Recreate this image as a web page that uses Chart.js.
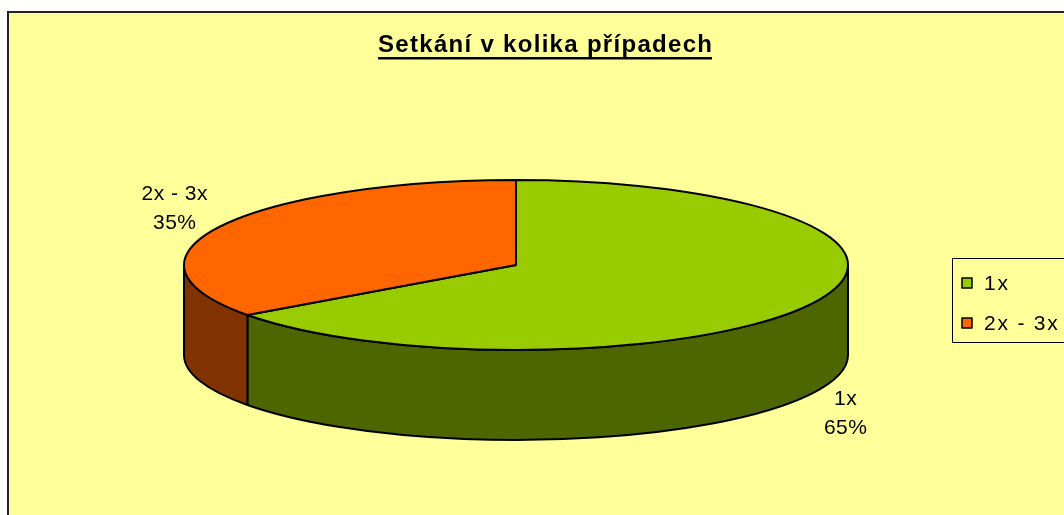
<!DOCTYPE html>
<html>
<head>
<meta charset="utf-8">
<script src="https://cdn.jsdelivr.net/npm/chart.js@4"></script>
<style>
  html, body { margin: 0; padding: 0; background: #ffffff; }
  #wrap { width: 1064px; height: 515px; position: relative; }
</style>
</head>
<body>
<div id="wrap"><canvas id="chart"></canvas></div>
<script>
// chart data
var chartTitle = 'Setkání v kolika případech';
var categories = ['1x', '2x - 3x'];
var shares = [65, 35];
var topColors = ['#99CC00', '#FF6600'];
var sideColors = ['#4D6600', '#803300'];

// 3d look of the pie (ellipse radii and wall height)
var RX = 332, RY = 85, DEPTH = 90;

var backgroundPlugin = {
    id: 'excelBackground',
    beforeDraw: function (chart) {
        var ctx = chart.ctx;
        ctx.save();
        ctx.fillStyle = '#ffffff';
        ctx.fillRect(0, 0, chart.width, chart.height);
        ctx.fillStyle = '#FFFF99';
        ctx.fillRect(8, 12, chart.width, chart.height);
        ctx.strokeStyle = '#222222';
        ctx.lineWidth = 2;
        ctx.beginPath();
        ctx.moveTo(8, chart.height + 2);
        ctx.lineTo(8, 12);
        ctx.lineTo(chart.width + 2, 12);
        ctx.stroke();

        // title, underlined
        ctx.font = 'bold 24px "Liberation Sans", Arial, sans-serif';
        ctx.letterSpacing = '1.3px';
        ctx.fillStyle = '#000000';
        ctx.textAlign = 'left';
        ctx.textBaseline = 'alphabetic';
        var w = ctx.measureText(chartTitle).width - 1.3;
        ctx.fillText(chartTitle, 545 - w / 2, 52);
        ctx.fillRect(545 - w / 2, 57, w, 2.5);
        ctx.restore();
    }
};

var pie3dPlugin = {
    id: 'pie3d',
    beforeDatasetsDraw: function (chart) {
        var ctx = chart.ctx;
        var meta = chart.getDatasetMeta(0);
        var cx = meta.data[0].x, cy = meta.data[0].y;
        var colors = chart.data.datasets[0].backgroundColor;
        var total = shares.reduce(function (a, b) { return a + b; }, 0);

        ctx.save();
        ctx.lineWidth = 2;
        ctx.strokeStyle = '#000000';
        ctx.lineJoin = 'round';

        // front walls
        meta.data.forEach(function (arc, i) {
            var s = arc.startAngle, e = arc.endAngle;
            for (var k = -1; k <= 1; k++) {
                var a = Math.max(s, 2 * Math.PI * k);
                var b = Math.min(e, Math.PI + 2 * Math.PI * k);
                if (b <= a) continue;
                ctx.beginPath();
                ctx.ellipse(cx, cy, RX, RY, 0, a, b);
                ctx.lineTo(cx + RX * Math.cos(b), cy + RY * Math.sin(b) + DEPTH);
                ctx.ellipse(cx, cy + DEPTH, RX, RY, 0, b, a, true);
                ctx.closePath();
                ctx.fillStyle = sideColors[i];
                ctx.fill();
                ctx.stroke();
            }
        });

        // top faces
        meta.data.forEach(function (arc, i) {
            ctx.beginPath();
            ctx.moveTo(cx, cy);
            ctx.ellipse(cx, cy, RX, RY, 0, arc.startAngle, arc.endAngle);
            ctx.closePath();
            ctx.fillStyle = colors[i];
            ctx.fill();
            ctx.stroke();
        });

        // data labels
        ctx.font = '21px "Liberation Sans", Arial, sans-serif';
        ctx.letterSpacing = '0.5px';
        ctx.fillStyle = '#000000';
        ctx.textAlign = 'center';
        ctx.textBaseline = 'middle';
        meta.data.forEach(function (arc, i) {
            var mid = (arc.startAngle + arc.endAngle) / 2;
            var c = Math.cos(mid), s = Math.sin(mid);
            var lx = cx + (RX + (c > 0 ? 38 : 51)) * c;
            var ly = cy + (RY + 42) * s + (s > 0 ? DEPTH : 0);
            var pct = Math.round(shares[i] / total * 100) + '%';
            ctx.fillText(chart.data.labels[i], lx, ly - 13);
            ctx.fillText(pct, lx, ly + 16);
        });

        // legend
        ctx.fillStyle = '#FFFF99';
        ctx.fillRect(952, 258, 200, 84);
        ctx.lineWidth = 1;
        ctx.strokeStyle = '#000000';
        ctx.strokeRect(952.5, 258.5, 200, 84);
        ctx.font = '21px "Liberation Sans", Arial, sans-serif';
        ctx.letterSpacing = '1.8px';
        ctx.textAlign = 'left';
        ctx.lineWidth = 1.5;
        chart.data.labels.forEach(function (lab, i) {
            var y = 283 + i * 40;
            ctx.fillStyle = colors[i];
            ctx.fillRect(962, y - 5, 10, 10);
            ctx.strokeRect(962, y - 5, 10, 10);
            ctx.fillStyle = '#000000';
            ctx.fillText(lab, 984, y + 1);
        });

        ctx.restore();
        return false;
    }
};

new Chart(document.getElementById('chart'), {
    type: 'pie',
    data: {
        labels: categories,
        datasets: [{
            data: shares,
            backgroundColor: topColors,
            borderColor: '#000000',
            borderWidth: 1
        }]
    },
    options: {
        responsive: true,
        maintainAspectRatio: false,
        animation: false,
        layout: {
            padding: { left: 300, right: 332, top: 200, bottom: 185 }
        },
        plugins: {
            legend: { display: false },
            title: { display: false },
            tooltip: { enabled: false }
        }
    },
    plugins: [backgroundPlugin, pie3dPlugin]
});
</script>
</body>
</html>
